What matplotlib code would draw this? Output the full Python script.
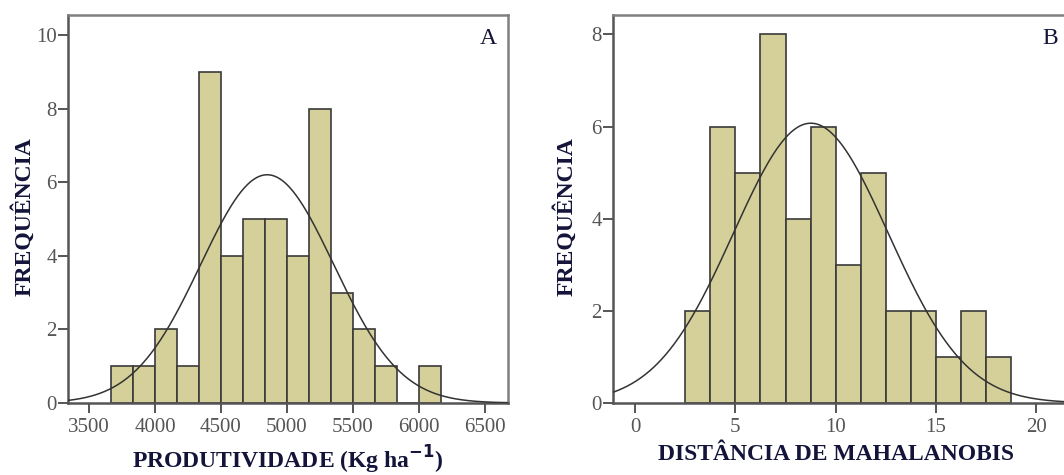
import numpy as np
import matplotlib.pyplot as plt

# histogram A: produtividade
edges_a = [3666.7, 3833.3, 4000.0, 4166.7, 4333.3, 4500.0, 4666.7, 4833.3,
           5000.0, 5166.7, 5333.3, 5500.0, 5666.7, 5833.3, 6000.0, 6166.7]
counts_a = [1, 1, 2, 1, 9, 4, 5, 5, 4, 8, 3, 2, 1, 0, 1]
mean_a, sd_a = 4850, 504

# histogram B: distancia de Mahalanobis
edges_b = [2.5, 3.75, 5.0, 6.25, 7.5, 8.75, 10.0, 11.25, 12.5, 13.75,
           15.0, 16.25, 17.5, 18.75]
counts_b = [2, 6, 5, 8, 4, 6, 3, 5, 2, 2, 1, 2, 1]
mean_b, sd_b = 8.76, 3.86

bar_col = '#d5d09a'
lab_col = '#14143a'
tick_col = '#555555'
serif = ['Liberation Serif', 'DejaVu Serif']

fig = plt.figure(figsize=(10.64, 4.75), dpi=100)
ax1 = fig.add_axes([0.0639, 0.1516, 0.4135, 0.8168])
ax2 = fig.add_axes([0.5759, 0.1516, 0.437, 0.8168])


def draw(ax, edges, counts, mean, sd, xlim, ylim, xticks, yticks, xlabel,
         xlab_x, ylab_x, letter, letter_x):
    edges = np.array(edges)
    ax.bar(edges[:-1], counts, width=np.diff(edges), align='edge',
           color=bar_col, edgecolor='#3a3a3a', linewidth=1.2, zorder=2)
    w = np.diff(edges).mean()
    x = np.linspace(xlim[0], xlim[1], 400)
    y = sum(counts) * w / (sd * np.sqrt(2 * np.pi)) * np.exp(-0.5 * ((x - mean) / sd) ** 2)
    ax.plot(x, y, color='#333333', lw=1.1, zorder=3)
    ax.set_xlim(*xlim)
    ax.set_ylim(*ylim)
    ax.set_xticks(xticks)
    ax.set_yticks(yticks)
    for s in ax.spines.values():
        s.set_color('#808080')
        s.set_linewidth(1.8)
    ax.spines['left'].set_color('#555555')
    ax.spines['bottom'].set_color('#555555')
    ax.tick_params(axis='x', length=7, width=1.4, color='#555555', pad=4,
                   labelsize=15, labelcolor=tick_col)
    ax.tick_params(axis='y', length=7, width=1.4, color='#555555', pad=1,
                   labelsize=15, labelcolor=tick_col)
    for t in ax.get_xticklabels() + ax.get_yticklabels():
        t.set_family(serif)
    ax.set_xlabel(xlabel, fontsize=17, fontweight='bold', family=serif,
                  color=lab_col)
    ax.xaxis.set_label_coords(xlab_x, -0.105)
    ax.set_ylabel('FREQUÊNCIA', fontsize=17, fontweight='bold', family=serif,
                  color=lab_col)
    ax.yaxis.set_label_coords(ylab_x, 0.48)
    ax.text(letter_x, 0.94, letter, transform=ax.transAxes, fontsize=17,
            family=serif, color=lab_col, ha='center', va='center')


draw(ax1, edges_a, counts_a, mean_a, sd_a, (3341, 6674), (0, 10.54),
     [3500, 4000, 4500, 5000, 5500, 6000, 6500], [0, 2, 4, 6, 8, 10],
     'PRODUTIVIDADE (Kg ha$^{\\mathbf{-1}}$)', 0.5, -0.075, 'A', 0.955)
draw(ax2, edges_b, counts_b, mean_b, sd_b, (-1.11, 22.06), (0, 8.42),
     [0, 5, 10, 15, 20], [0, 2, 4, 6, 8],
     'DISTÂNCIA DE MAHALANOBIS', 0.48, -0.076, 'B', 0.94)

fig.savefig('out.png', dpi=100)
